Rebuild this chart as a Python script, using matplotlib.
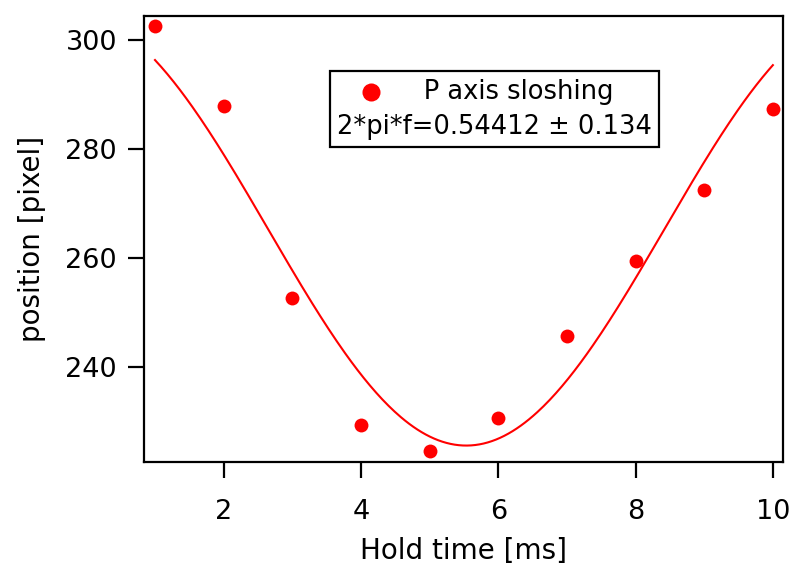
import numpy as np
import matplotlib
matplotlib.use("Agg")
from matplotlib import pyplot as plt

# measured positions of the P axis sloshing
hold_time = [1, 2, 3, 4, 5, 6, 7, 8, 9, 10]
position = [302.6, 288.0, 252.7, 229.4, 224.6, 230.7, 245.7, 259.5, 272.5, 287.4]

omega = 0.54412
omega_err = 0.134

# fit y = c + a*cos(w t) + b*sin(w t) with w fixed (linear least squares)
t = np.array(hold_time, dtype=float)
y = np.array(position)
design = np.column_stack([np.ones_like(t), np.cos(omega * t), np.sin(omega * t)])
coef, *_ = np.linalg.lstsq(design, y, rcond=None)
t_fit = np.linspace(t[0], t[-1], 300)
y_fit = coef[0] + coef[1] * np.cos(omega * t_fit) + coef[2] * np.sin(omega * t_fit)

plt.rcParams["font.family"] = ["DejaVu Sans"]
fig = plt.figure(figsize=(7.93, 5.74), dpi=100)
ax = fig.add_axes([0.1816, 0.195, 0.806, 0.7776])

ax.plot(t_fit, y_fit, "r-", lw=1.5)
ax.plot(t, y, "o", color="red", ms=10, mec="none")

ax.set_xlim(0.84, 10.15)
ax.set_ylim(222.6, 304.5)
ax.set_xticks([2, 4, 6, 8, 10])
ax.set_yticks([240, 260, 280, 300])
ax.tick_params(direction="out", length=11.5, width=1.6, labelsize=19.5)
ax.tick_params(axis="x", pad=15)
ax.tick_params(axis="y", pad=8)
for s in ax.spines.values():
    s.set_linewidth(1.6)
ax.set_xlabel("Hold time [ms]", fontsize=20, labelpad=9)
ax.set_ylabel("position [pixel]", fontsize=20, labelpad=14)

# legend box
ax.text(0.548, 0.791, "      P axis sloshing\n2*pi*f=%.5f \u00b1 %.3f" % (omega, omega_err),
        transform=ax.transAxes, ha="center", va="center", fontsize=18.5,
        linespacing=1.45,
        bbox=dict(boxstyle="square,pad=0.28", fc="white", ec="black", lw=1.6))
ax.plot([0.355], [0.829], "o", color="red", ms=13, mec="none",
        transform=ax.transAxes, zorder=5)

fig.savefig("out.png", dpi=100)
